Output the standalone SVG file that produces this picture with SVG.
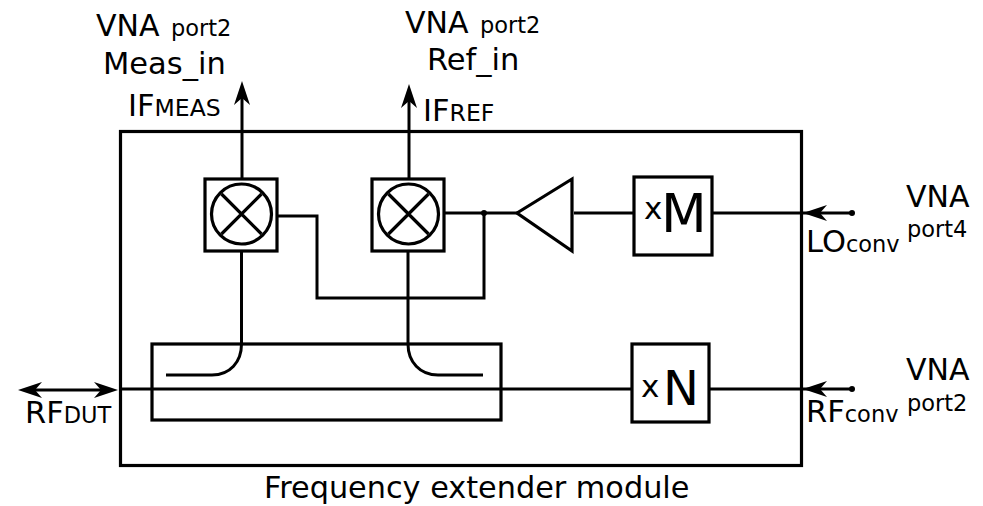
<svg xmlns="http://www.w3.org/2000/svg" width="983" height="506" viewBox="0 0 983 506">
<style>
text{font-family:"DejaVu Sans",Verdana,sans-serif;fill:#000}
.b{fill:#fff;stroke:#000;stroke-width:3.2}
.n{fill:none;stroke:#000;stroke-width:3.2}
.c{fill:none;stroke:#000;stroke-width:3}
.l{font-size:30px}
.s{font-size:22.500px}
.t{font-size:30.500px}
.u{font-size:23.500px}
.v{font-size:22.500px}
</style>
<defs>
<path id="ah" d="M0 0L-24 -8L-17 0L-24 8Z" fill="#000"/>
</defs>
<g id="module"><rect x="120.500" y="131.500" width="681" height="334" class="n"/></g>
<g id="coupler"><rect x="152" y="344" width="349" height="76" class="n"/></g>
<g id="connectors">
<path class="c" d="M242 179V95"/>
<path class="c" d="M409 179V97"/>
<path class="c" d="M241.500 251V344C241.500 362 230 375 212 375H166"/>
<path class="c" d="M408 251V344C408 362 420 375 438 375H483"/>
<path class="c" d="M278 216H317V298H484V213"/>
<path class="c" d="M445 213H517"/>
<path class="c" d="M574 213H634"/>
<path class="c" d="M712 213H852"/>
<path class="c" d="M120 389H632"/>
<path class="c" d="M709 389H852"/>
<path class="c" d="M30 390H105"/>
<use href="#ah" transform="translate(242,81) rotate(-90)"/>
<use href="#ah" transform="translate(409,84) rotate(-90)"/>
<use href="#ah" transform="translate(18,390) rotate(180)"/>
<use href="#ah" transform="translate(118,390)"/>
<use href="#ah" transform="translate(803,213) rotate(180)"/>
<use href="#ah" transform="translate(803,389) rotate(180)"/>
<circle cx="852" cy="213" r="3" fill="#000"/>
<circle cx="852" cy="389" r="3" fill="#000"/>
<circle cx="484" cy="213" r="3" fill="#000"/>
</g>
<g id="mixer-meas"><rect x="205" y="179" width="72" height="72" class="b"/><circle cx="241.500" cy="214" r="30" class="n"/><path class="n" d="M221.500 194L261.500 234M261.500 194L221.500 234"/></g>
<g id="mixer-ref"><rect x="372" y="179" width="72" height="72" class="b"/><circle cx="408.500" cy="214" r="30" class="n"/><path class="n" d="M388.500 194L428.500 234M428.500 194L388.500 234"/></g>
<g id="amp"><path class="b" d="M517 213L572 179V251Z"/></g>
<g id="mult-m"><rect x="634" y="177" width="78" height="78" class="b"/><text x="644" y="219" font-size="31">x</text><text x="661" y="232" font-size="53">M</text></g>
<g id="mult-n"><rect x="632" y="344" width="77" height="78" class="b"/><text x="641" y="397" font-size="31">x</text><text x="663" y="405" font-size="48">N</text></g>
<g id="labels">
<text x="96" y="36" class="l">VNA</text><text x="171" y="36" class="s">port2</text>
<text x="103" y="74" class="t">Meas_in</text>
<text x="128" y="116" class="t">IF<tspan class="u">MEAS</tspan></text>
<text x="405" y="33" class="l">VNA</text><text x="480" y="33" class="s">port2</text>
<text x="427" y="70" class="t">Ref_in</text>
<text x="423" y="121" class="t">IF<tspan class="u">REF</tspan></text>
<text x="806" y="252" class="t">LO<tspan class="v">conv</tspan></text>
<text x="906" y="207" class="l">VNA</text><text x="907" y="237" class="s">port4</text>
<text x="806" y="422" class="t">RF<tspan class="v">conv</tspan></text>
<text x="906" y="380" class="l">VNA</text><text x="907" y="411" class="s">port2</text>
<text x="25" y="423" class="t">RF<tspan class="v">DUT</tspan></text>
<text x="264" y="498" font-size="30.300">Frequency extender module</text>
</g>
</svg>
